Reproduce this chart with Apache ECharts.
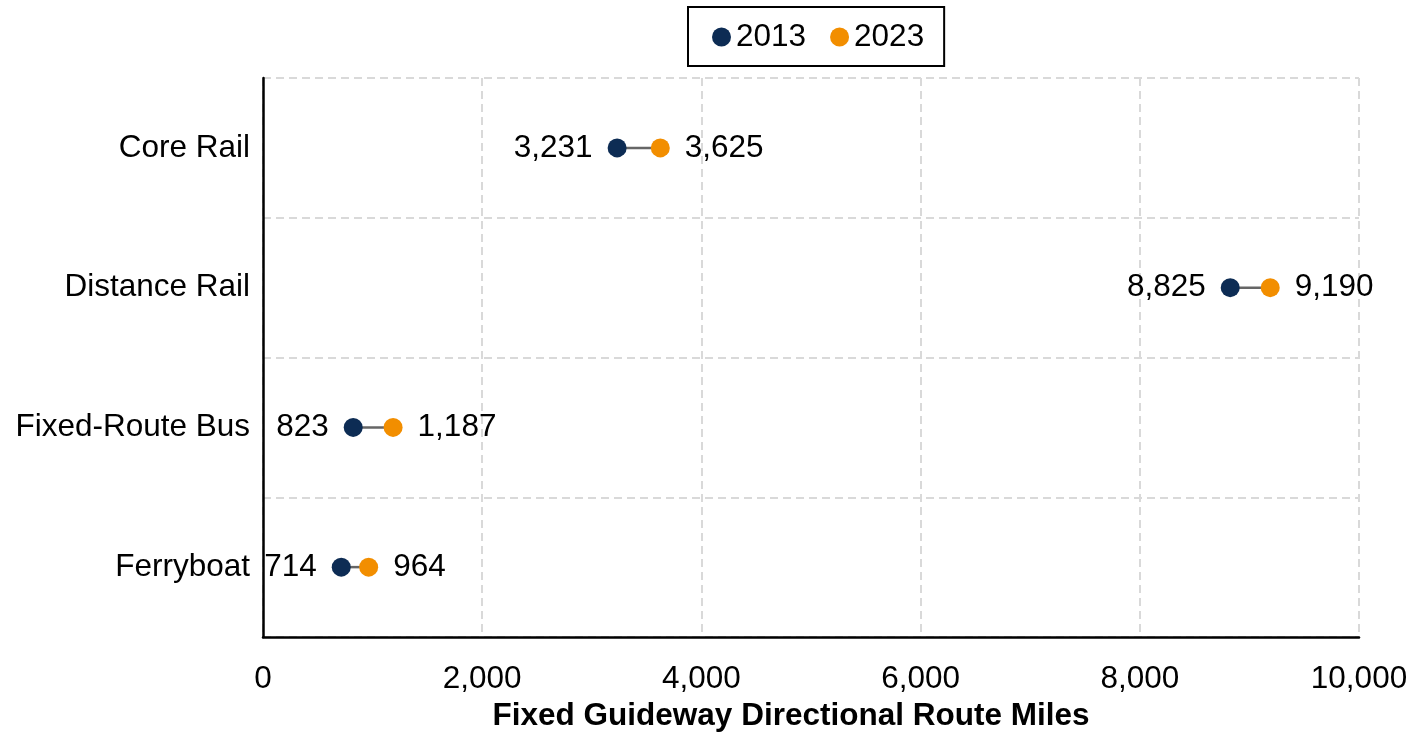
<!DOCTYPE html>
<html>
<head>
<meta charset="utf-8">
<title>Fixed Guideway Directional Route Miles</title>
<script src="https://cdn.jsdelivr.net/npm/echarts@6/dist/echarts.min.js"></script>
<style>
  html, body { margin: 0; padding: 0; background: #ffffff; overflow: hidden; }
  #chart { width: 1415px; height: 732px; }
</style>
</head>
<body>
<div id="chart"></div>
<script>
// Modes, listed top to bottom
const categories = ['Core Rail', 'Distance Rail', 'Fixed-Route Bus', 'Ferryboat'];
// Directional route miles by year
const miles2013 = [3231, 8825, 823, 714];
const miles2023 = [3625, 9190, 1187, 964];
// X axis ticks
const xTicks = [0, 2000, 4000, 6000, 8000, 10000];

const NAVY = '#0d2c54';
const ORANGE = '#f28e00';
const FONT = 'Liberation Sans, Arial, sans-serif';
const FS = 31.5;
const GRID_LINE = { color: '#d9d9d9', width: 2, type: [8, 5] };
const fmt = v => v.toLocaleString('en-US');

const chart = echarts.init(document.getElementById('chart'), null, { renderer: 'canvas' });

const option = {
  animation: false,
  backgroundColor: '#ffffff',
  textStyle: { fontFamily: FONT },
  legend: {
    top: 7,
    left: 688,
    data: ['2013', '2023'],
    itemWidth: 19,
    itemHeight: 19,
    itemGap: 24,
    padding: [14, 20, 13, 24],
    borderColor: '#000000',
    borderWidth: 2,
    icon: 'circle',
    textStyle: { fontSize: FS, color: '#000', fontFamily: FONT }
  },
  grid: {
    left: 263, right: 56, top: 78, bottom: 95,
    containLabel: false,
    outerBoundsMode: 'none'
  },
  xAxis: {
    type: 'value',
    min: xTicks[0],
    max: xTicks[xTicks.length - 1],
    interval: 2000,
    name: 'Fixed Guideway Directional Route Miles',
    nameLocation: 'middle',
    nameGap: 61,
    nameTextStyle: {
      fontSize: 31.5, fontWeight: 'bold', color: '#000', fontFamily: FONT,
      padding: [0, 40, 0, 0]
    },
    axisLine: { show: true, lineStyle: { color: '#000', width: 2.5 } },
    axisTick: { show: false },
    axisLabel: {
      fontSize: FS, color: '#000', margin: 26, fontFamily: FONT,
      formatter: v => fmt(v)
    },
    splitLine: { show: true, lineStyle: GRID_LINE }
  },
  yAxis: {
    type: 'category',
    data: categories,
    inverse: true,
    boundaryGap: true,
    axisLine: { show: true, lineStyle: { color: '#000', width: 2.5 } },
    axisTick: { show: false },
    axisLabel: { fontSize: FS, color: '#000', margin: 13, fontFamily: FONT },
    splitLine: { show: true, lineStyle: GRID_LINE }
  },
  series: [
    {
      // connector between the two years
      name: 'connector',
      type: 'custom',
      silent: true,
      z: 1,
      encode: { x: [0, 1], y: 2 },
      data: categories.map((c, i) => [miles2013[i], miles2023[i], i]),
      renderItem: function (params, api) {
        const p1 = api.coord([api.value(0), api.value(2)]);
        const p2 = api.coord([api.value(1), api.value(2)]);
        return {
          type: 'line',
          shape: { x1: p1[0], y1: p1[1], x2: p2[0], y2: p2[1] },
          style: { stroke: '#666666', lineWidth: 2.5 }
        };
      }
    },
    {
      name: '2013',
      type: 'scatter',
      z: 3,
      symbol: 'circle',
      symbolSize: 19,
      itemStyle: { color: NAVY, opacity: 1 },
      data: categories.map((c, i) => [miles2013[i], c]),
      label: {
        show: true,
        position: 'left',
        distance: 15,
        fontSize: FS,
        color: '#000',
        fontFamily: FONT,
        formatter: p => fmt(p.value[0])
      }
    },
    {
      name: '2023',
      type: 'scatter',
      z: 3,
      symbol: 'circle',
      symbolSize: 19,
      itemStyle: { color: ORANGE, opacity: 1 },
      data: categories.map((c, i) => [miles2023[i], c]),
      label: {
        show: true,
        position: 'right',
        distance: 15,
        fontSize: FS,
        color: '#000',
        fontFamily: FONT,
        formatter: p => fmt(p.value[0])
      }
    }
  ]
};

chart.setOption(option);
</script>
</body>
</html>
